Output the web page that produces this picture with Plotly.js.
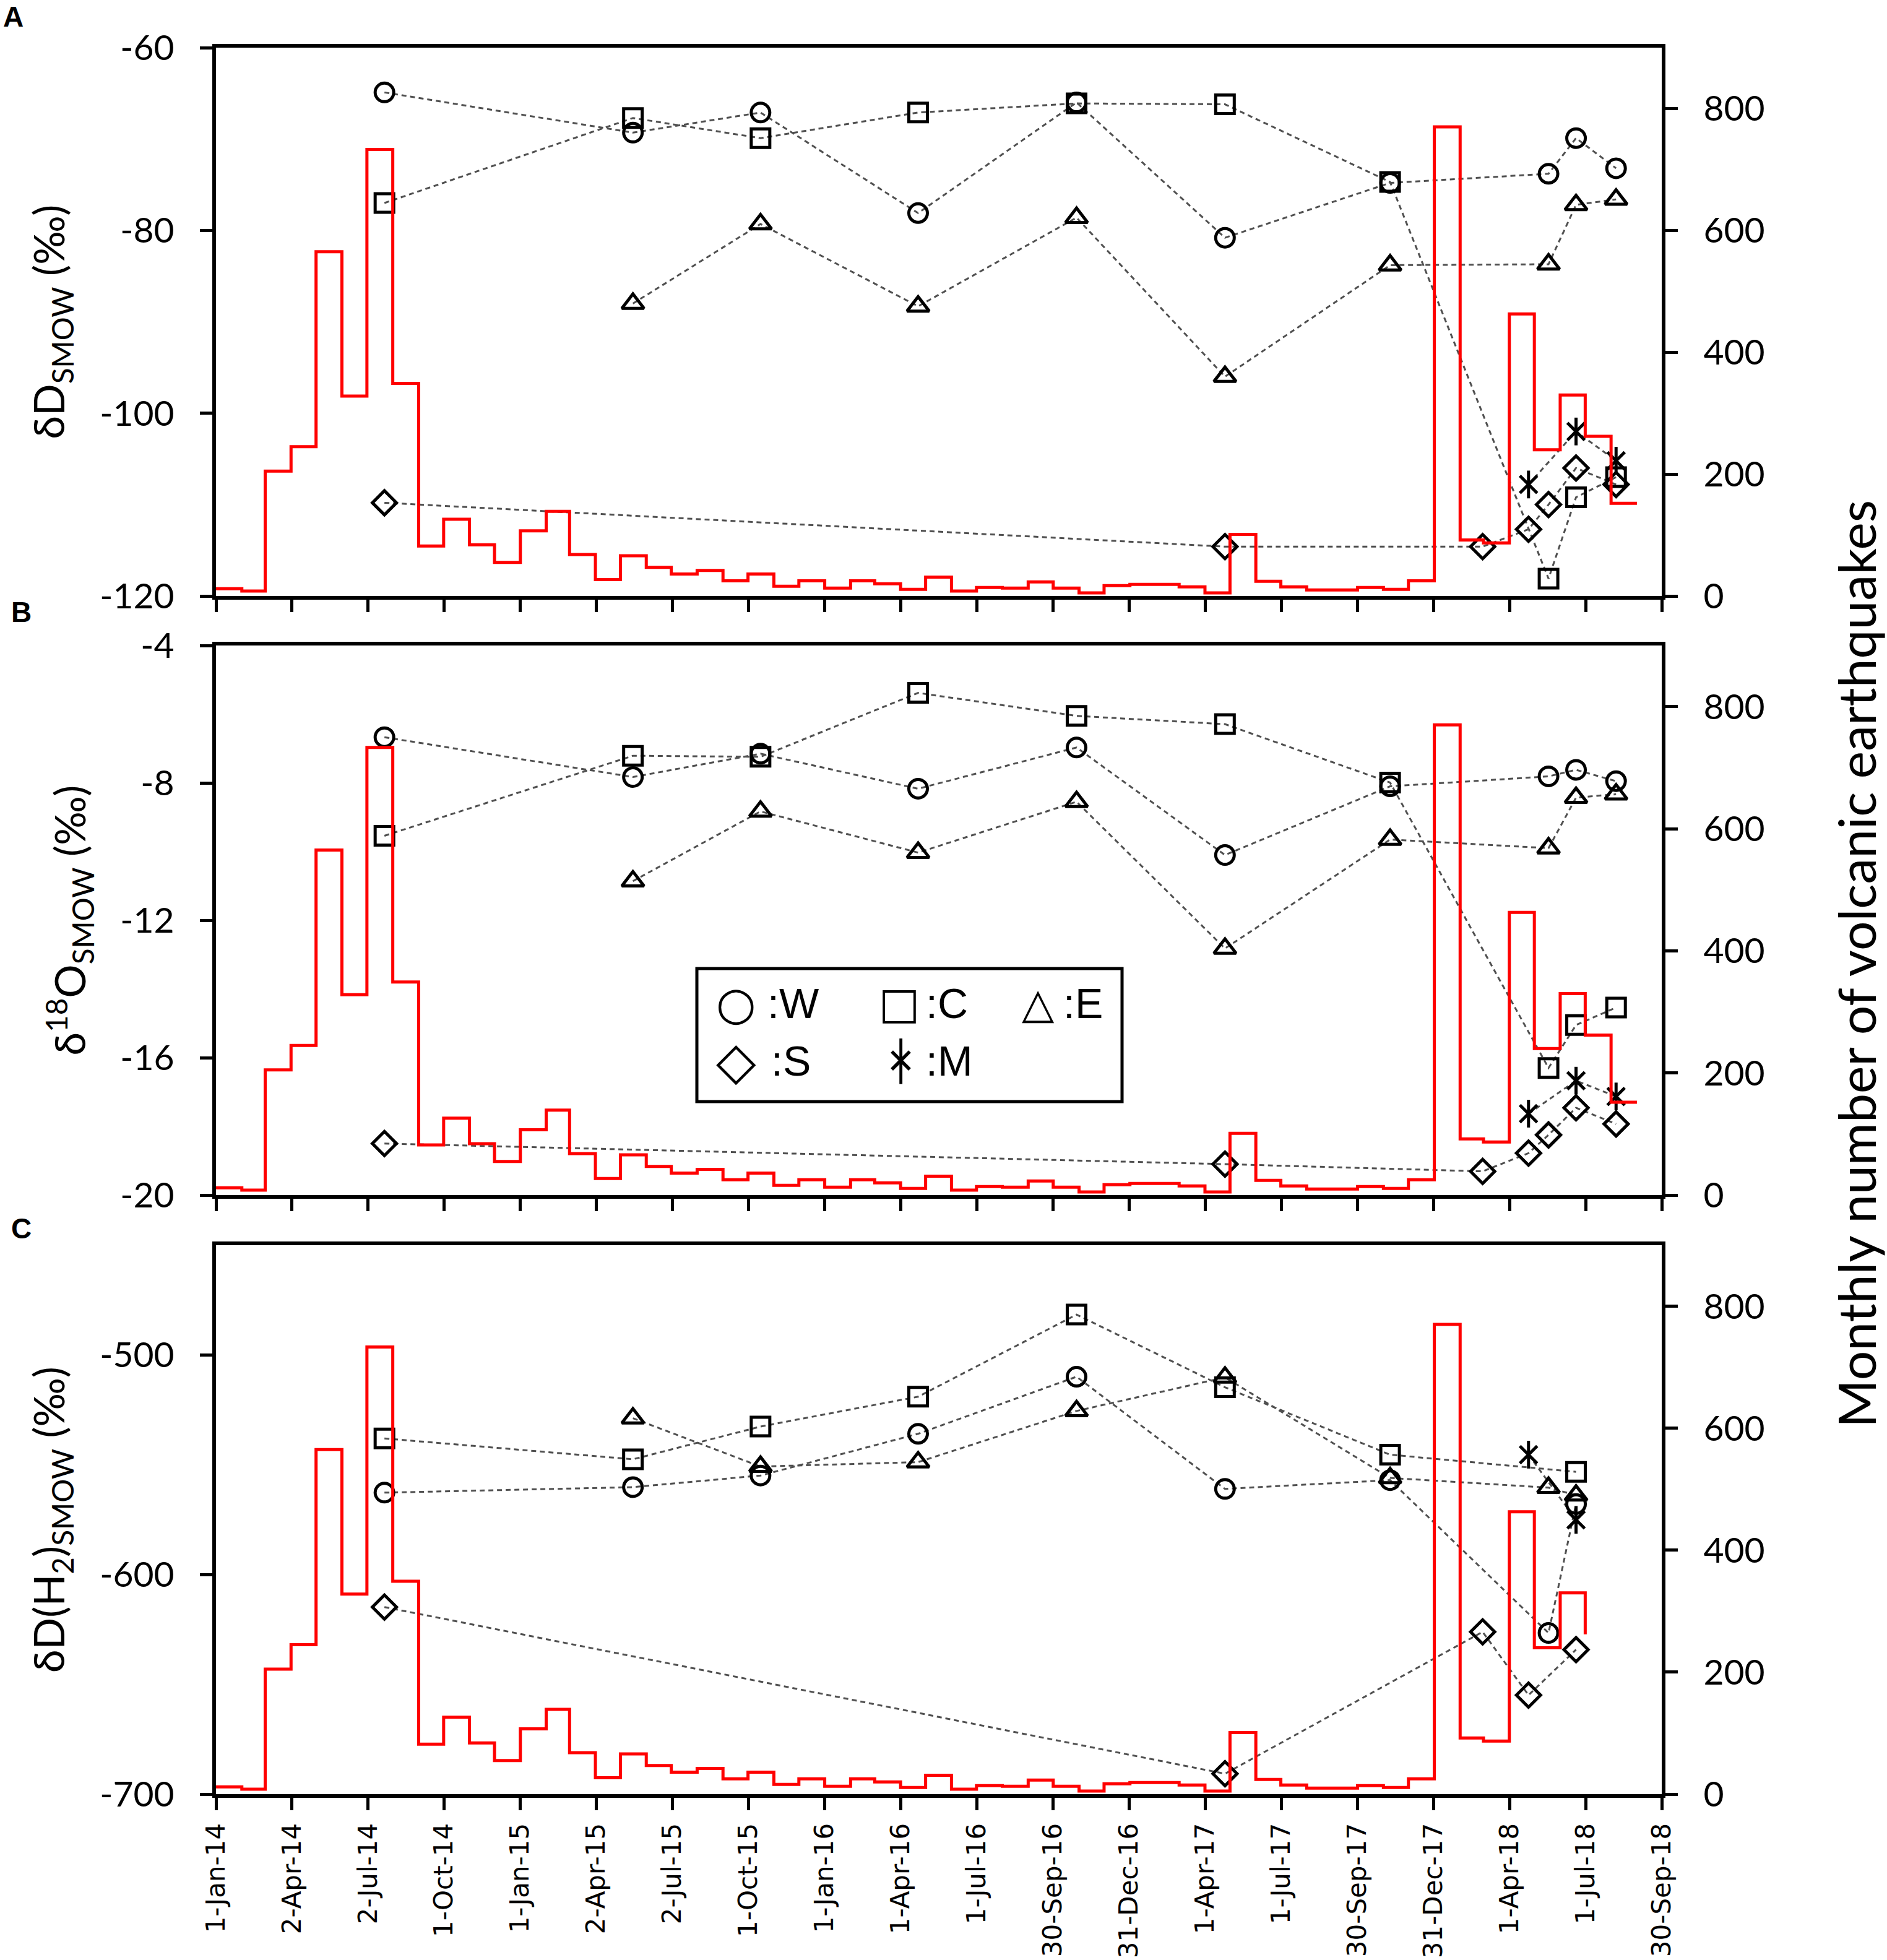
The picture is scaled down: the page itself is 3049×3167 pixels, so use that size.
<!DOCTYPE html>
<html>
<head>
<meta charset="utf-8">
<script src="https://cdn.plot.ly/plotly-3.0.1.min.js"></script>
<style>html,body{margin:0;padding:0;background:#fff;}#chart{width:3049px;height:3167px;}</style>
</head>
<body>
<div id="chart"></div>
<script>
// ---------------- DATA ----------------
const months = [
  '2014-01-01','2014-02-01','2014-03-01','2014-04-01','2014-05-01','2014-06-01','2014-07-01','2014-08-01','2014-09-01','2014-10-01','2014-11-01','2014-12-01',
  '2015-01-01','2015-02-01','2015-03-01','2015-04-01','2015-05-01','2015-06-01','2015-07-01','2015-08-01','2015-09-01','2015-10-01','2015-11-01','2015-12-01',
  '2016-01-01','2016-02-01','2016-03-01','2016-04-01','2016-05-01','2016-06-01','2016-07-01','2016-08-01','2016-09-01','2016-10-01','2016-11-01','2016-12-01',
  '2017-01-01','2017-02-01','2017-03-01','2017-04-01','2017-05-01','2017-06-01','2017-07-01','2017-08-01','2017-09-01','2017-10-01','2017-11-01','2017-12-01',
  '2018-01-01','2018-02-01','2018-03-01','2018-04-01','2018-05-01','2018-06-01','2018-07-01','2018-08-01'
];
const quakeCounts = [
  12, 8, 205, 245, 565, 328, 733, 349, 82, 126, 84, 55,
  107, 139, 68, 27, 66, 47, 36, 42, 25, 36, 16, 25,
  13, 25, 20, 11, 31, 8, 14, 13, 23, 13, 5, 17,
  19, 19, 15, 5, 101, 24, 15, 10, 10, 14, 11, 25,
  770, 92, 87, 463, 240, 330, 262, 152
];
const stepEnd = '2018-09-01';
const lastMonthPanelC = '2018-07-01';

const sampleDates = ['2014-07-22','2015-05-16','2015-10-16','2016-04-22','2016-10-29','2017-04-25',
                     '2017-11-09','2018-02-28','2018-04-24','2018-05-18','2018-06-20','2018-08-07'];

// Panel A: deltaD (permil)
const dD_W = [-64.9, -69.3, -67.1, -78.1, -66.0, -80.8, -74.8, null, null, -73.8, -69.9, -73.2];
const dD_C = [-77.0, -67.7, -69.9, -67.1, -66.1, -66.2, -74.7, null, null, -118.1, -109.2, -107.0];
const dD_E = [null, -88.0, -79.3, -88.3, -78.6, -96.0, -83.8, null, null, -83.7, -77.2, -76.6];
const dD_S = [-109.8, null, null, null, null, -114.6, null, -114.6, -112.7, -110.0, -106.0, -107.8];
const dD_M = [null, null, null, null, null, null, null, null, -107.8, null, -102.0, -105.2];

// Panel B: delta18O (permil)
const d18O_W = [-6.67, -7.83, -7.15, -8.17, -6.97, -10.10, -8.10, null, null, -7.81, -7.62, -7.95];
const d18O_C = [-9.54, -7.21, -7.24, -5.38, -6.05, -6.29, -7.99, null, null, -16.30, -15.05, -14.54];
const d18O_E = [null, -10.86, -8.83, -10.03, -8.55, -12.82, -9.65, null, null, -9.90, -8.43, -8.33];
const d18O_S = [-18.5, null, null, null, null, -19.10, null, -19.31, -18.78, -18.25, -17.46, -17.93];
const d18O_M = [null, null, null, null, null, null, null, null, -17.63, null, -16.67, -17.13];

// Panel C: deltaD(H2) (permil)
const dDH2_W = [-562.7, -560.2, -554.9, -535.9, -509.9, -561.0, -557.0, null, null, -626.6, -567.9, null];
const dDH2_C = [-538.0, -547.5, -532.6, -519.0, -481.6, -514.7, -545.4, null, null, null, -553.2, null];
const dDH2_E = [null, -528.8, -550.8, -548.8, -525.5, -510.2, -556.0, null, null, -560.4, -563.9, null];
const dDH2_S = [-614.8, null, null, null, null, -690.7, null, -626.1, -654.9, null, -634.2, null];
const dDH2_M = [null, null, null, null, null, null, null, null, -545.4, null, -575.1, null];

// Axis ticks
const tickVals = ['2014-01-01 00:00','2014-04-02 06:00','2014-07-02 12:00','2014-10-01 18:00','2015-01-01 00:00',
  '2015-04-02 06:00','2015-07-02 12:00','2015-10-01 18:00','2016-01-01 00:00','2016-04-01 06:00',
  '2016-07-01 12:00','2016-09-30 18:00','2016-12-31 00:00','2017-04-01 06:00','2017-07-01 12:00',
  '2017-09-30 18:00','2017-12-31 00:00','2018-04-01 06:00','2018-07-01 12:00','2018-09-30 18:00'];
const tickText = ['1-Jan-14','2-Apr-14','2-Jul-14','1-Oct-14','1-Jan-15','2-Apr-15','2-Jul-15','1-Oct-15',
  '1-Jan-16','1-Apr-16','1-Jul-16','30-Sep-16','31-Dec-16','1-Apr-17','1-Jul-17','30-Sep-17',
  '31-Dec-17','1-Apr-18','1-Jul-18','30-Sep-18'];
const xRange = ['2014-01-01 00:00', '2018-09-30 18:00'];

const yTicksA = [-120, -100, -80, -60];
const yTextA = ['-120', '-100', '-80', '-60'];
const yTicksB = [-20, -16, -12, -8, -4];
const yTextB = ['-20', '-16', '-12', '-8', '-4'];
const yTicksC = [-700, -600, -500];
const yTextC = ['-700', '-600', '-500'];
const quakeTicks = [0, 200, 400, 600, 800];

// Legend key (site symbols and labels)
const legendGlyphs = ['○', '□', '△', '◇', '✕'];
const legendLabels = [':W', ':C', ':E', ':S', ':M'];

// ---------------- STYLE ----------------
const W = 3049, H = 3167;
const FONT = 'Lato, "Open Sans", sans-serif';
const ARIAL = '"Liberation Sans", Arial, sans-serif';
const SYMF = '"DejaVu Sans", sans-serif';
const dashLine = {color: '#505050', width: 3, dash: '8px,6px'};
const mk = (sym, size) => ({symbol: sym, size: size, color: 'black', line: {color: 'black', width: 5}});

const series = [
  {key: 'W', name: ':W', sym: 'circle-open', size: 30},
  {key: 'C', name: ':C', sym: 'square-open', size: 30},
  {key: 'E', name: ':E', sym: 'triangle-up-open', size: 31},
  {key: 'S', name: ':S', sym: 'diamond-open', size: 30},
  {key: 'M', name: ':M', sym: 'x-thin-open', size: 28}
];

const panels = [
  {xa: 'x', ya: 'y', yr: 'y4', data: {W: dD_W, C: dD_C, E: dD_E, S: dD_S, M: dD_M},
   stepX: months.concat([stepEnd]), stepY: quakeCounts.concat([quakeCounts[quakeCounts.length - 1]])},
  {xa: 'x2', ya: 'y2', yr: 'y5', data: {W: d18O_W, C: d18O_C, E: d18O_E, S: d18O_S, M: d18O_M},
   stepX: months.concat([stepEnd]), stepY: quakeCounts.concat([quakeCounts[quakeCounts.length - 1]])},
  {xa: 'x3', ya: 'y3', yr: 'y6', data: {W: dDH2_W, C: dDH2_C, E: dDH2_E, S: dDH2_S, M: dDH2_M},
   stepX: months.slice(0, months.indexOf(lastMonthPanelC) + 1),
   stepY: quakeCounts.slice(0, months.indexOf(lastMonthPanelC) + 1)}
];

const traces = [];
panels.forEach(p => {
  series.forEach(s => {
    traces.push({
      type: 'scatter', mode: 'lines', x: sampleDates, y: p.data[s.key],
      xaxis: p.xa, yaxis: p.ya, connectgaps: true, hoverinfo: 'skip',
      line: dashLine, name: s.name + ' line'
    });
  });
  series.forEach(s => {
    traces.push({
      type: 'scatter', mode: 'markers', x: sampleDates, y: p.data[s.key],
      xaxis: p.xa, yaxis: p.ya, name: s.name,
      marker: mk(s.sym, s.size), cliponaxis: false
    });
    if (s.key === 'M') {
      traces.push({
        type: 'scatter', mode: 'markers', x: sampleDates, y: p.data[s.key],
        xaxis: p.xa, yaxis: p.ya, hoverinfo: 'skip',
        marker: mk('line-ns-open', 32), cliponaxis: false, name: s.name + ' bar'
      });
    }
  });
  traces.push({
    type: 'scatter', mode: 'lines', x: p.stepX, y: p.stepY, xaxis: p.xa, yaxis: p.yr,
    line: {shape: 'hv', color: '#ff0000', width: 5}, name: 'Monthly number of volcanic earthquakes'
  });
});

const xd = [349 / W, 2685 / W];
const dom = (top, bot) => [1 - bot / H, 1 - top / H];
const domA = dom(77, 963), domB = dom(1043, 1931), domC = dom(2012, 2899);

const baseX = (anchor, showLabels) => ({
  domain: xd, anchor: anchor, type: 'date', range: xRange,
  tickmode: 'array', tickvals: tickVals, ticktext: tickText, showticklabels: showLabels,
  tickangle: -90, tickfont: {family: '"DejaVu Sans", Verdana, sans-serif', size: 42, color: 'black'}, ticklabelstandoff: 4,
  ticks: 'outside', ticklen: 20, tickwidth: 5, tickcolor: 'black',
  showline: true, linewidth: 6, linecolor: 'black', mirror: true,
  showgrid: false, zeroline: false
});
const baseYL = (anchor, domain, range, tickvals, ticktext, title) => ({
  domain: domain, anchor: anchor, range: range, tickmode: 'array', tickvals: tickvals, ticktext: ticktext,
  tickfont: {family: FONT, size: 57, color: 'black'}, ticklabelstandoff: 30,
  ticks: 'outside', ticklen: 20, tickwidth: 5, tickcolor: 'black',
  showline: true, linewidth: 6, linecolor: 'black',
  showgrid: false, zeroline: false,
  title: {text: title, font: {family: FONT, size: 68, color: 'black'}, standoff: 36}
});
const baseYR = (anchor, overlay) => ({
  overlaying: overlay, side: 'right', anchor: anchor, range: [0, 900],
  tickmode: 'array', tickvals: quakeTicks,
  tickfont: {family: FONT, size: 57, color: 'black'}, ticklabelstandoff: 30,
  ticks: 'outside', ticklen: 20, tickwidth: 5, tickcolor: 'black',
  showline: true, linewidth: 6, linecolor: 'black',
  showgrid: false, zeroline: false
});

// legend key layout (pixel positions of each entry: glyph centre and label left edge)
const keyPos = [
  {gx: 1189, gy: 1621, tx: 1238, ty: 1621, gs: 74},
  {gx: 1453, gy: 1621, tx: 1494, ty: 1621, gs: 70},
  {gx: 1677, gy: 1621, tx: 1716, ty: 1621, gs: 68},
  {gx: 1189, gy: 1714, tx: 1244, ty: 1714, gs: 84},
  {gx: 1455, gy: 1714, tx: 1494, ty: 1714, gs: 56}
];
const annotations = [
  {text: 'Monthly number of volcanic earthquakes', xref: 'paper', yref: 'paper',
   x: 2998 / W, y: 1 - 1558 / H, xanchor: 'center', yanchor: 'middle', textangle: -90,
   showarrow: false, font: {family: FONT, size: 84, color: 'black'}},
  {text: '<b>A</b>', xref: 'paper', yref: 'paper', x: 3 / W, y: 1 - 27 / H, xanchor: 'left', yanchor: 'middle',
   showarrow: false, font: {family: ARIAL, size: 46, color: 'black'}},
  {text: '<b>B</b>', xref: 'paper', yref: 'paper', x: 16 / W, y: 1 - 989 / H, xanchor: 'left', yanchor: 'middle',
   showarrow: false, font: {family: ARIAL, size: 46, color: 'black'}},
  {text: '<b>C</b>', xref: 'paper', yref: 'paper', x: 16 / W, y: 1 - 1985 / H, xanchor: 'left', yanchor: 'middle',
   showarrow: false, font: {family: ARIAL, size: 46, color: 'black'}}
];
legendGlyphs.forEach((g, i) => {
  const k = keyPos[i];
  annotations.push({text: g, xref: 'paper', yref: 'paper', x: k.gx / W, y: 1 - k.gy / H,
    xanchor: 'center', yanchor: 'middle', showarrow: false, font: {family: SYMF, size: k.gs, color: 'black'}});
  if (legendLabels[i] === ':M') {
    annotations.push({text: '│', xref: 'paper', yref: 'paper', x: k.gx / W, y: 1 - k.gy / H,
      xanchor: 'center', yanchor: 'middle', showarrow: false, font: {family: SYMF, size: 62, color: 'black'}});
  }
  annotations.push({text: legendLabels[i], xref: 'paper', yref: 'paper', x: k.tx / W, y: 1 - k.ty / H,
    xanchor: 'left', yanchor: 'middle', showarrow: false, font: {family: ARIAL, size: 68, color: 'black'}});
});

const layout = {
  width: W, height: H, margin: {l: 0, r: 0, t: 0, b: 0},
  paper_bgcolor: 'white', plot_bgcolor: 'white',
  font: {family: FONT, color: 'black'},
  showlegend: false,
  xaxis: baseX('y', false),
  xaxis2: baseX('y2', false),
  xaxis3: baseX('y3', true),
  yaxis: baseYL('x', domA, [-120, -60], yTicksA, yTextA, 'δD<sub>SMOW</sub> (‰)'),
  yaxis2: baseYL('x2', domB, [-20, -4], yTicksB, yTextB, 'δ<sup>18</sup>O<sub>SMOW</sub> (‰)'),
  yaxis3: baseYL('x3', domC, [-700, -450], yTicksC, yTextC, 'δD(H<sub>2</sub>)<sub>SMOW</sub> (‰)'),
  yaxis4: baseYR('x', 'y'),
  yaxis5: baseYR('x2', 'y2'),
  yaxis6: baseYR('x3', 'y3'),
  shapes: [
    {type: 'rect', xref: 'paper', yref: 'paper', x0: 1126 / W, x1: 1813 / W, y0: 1 - 1780 / H, y1: 1 - 1565 / H,
     line: {color: 'black', width: 5}, fillcolor: 'white', layer: 'above'}
  ],
  annotations: annotations
};

Plotly.newPlot('chart', traces, layout, {displayModeBar: false, staticPlot: true});
</script>
</body>
</html>
